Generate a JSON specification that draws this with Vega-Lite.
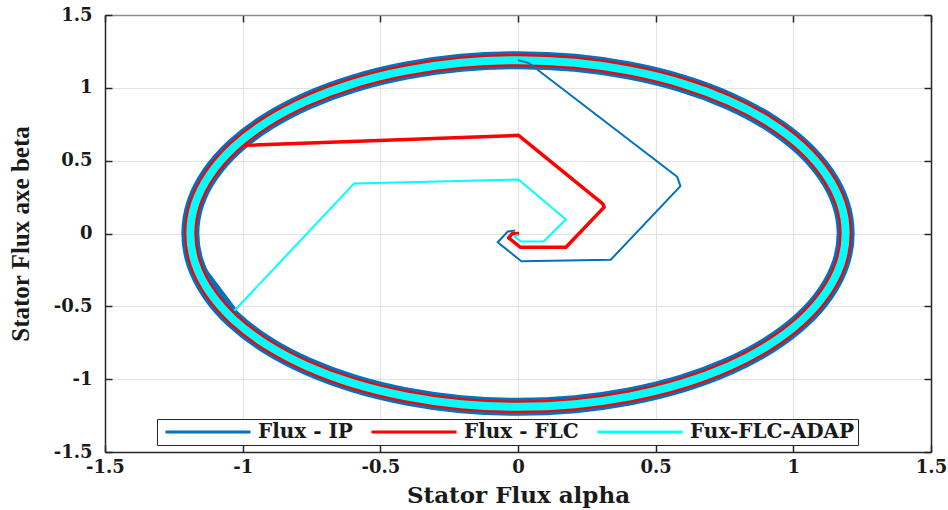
{
  "$schema": "https://vega.github.io/schema/vega-lite/v6.json",
  "width": 826,
  "height": 437,
  "autosize": {"type": "none"},
  "padding": {"left": 105, "top": 15, "right": 17, "bottom": 58},
  "background": "white",
  "config": {"view": {"stroke": null}},
  "datasets": {
    "ring": [
      {"i": 0, "x": 1.19, "y": 0.0},
      {"i": 1, "x": 1.172, "y": 0.207},
      {"i": 2, "x": 1.118, "y": 0.407},
      {"i": 3, "x": 1.031, "y": 0.595},
      {"i": 4, "x": 0.912, "y": 0.765},
      {"i": 5, "x": 0.765, "y": 0.912},
      {"i": 6, "x": 0.595, "y": 1.031},
      {"i": 7, "x": 0.407, "y": 1.118},
      {"i": 8, "x": 0.207, "y": 1.172},
      {"i": 9, "x": 0.0, "y": 1.19},
      {"i": 10, "x": -0.207, "y": 1.172},
      {"i": 11, "x": -0.407, "y": 1.118},
      {"i": 12, "x": -0.595, "y": 1.031},
      {"i": 13, "x": -0.765, "y": 0.912},
      {"i": 14, "x": -0.912, "y": 0.765},
      {"i": 15, "x": -1.031, "y": 0.595},
      {"i": 16, "x": -1.118, "y": 0.407},
      {"i": 17, "x": -1.172, "y": 0.207},
      {"i": 18, "x": -1.19, "y": 0.0},
      {"i": 19, "x": -1.172, "y": -0.207},
      {"i": 20, "x": -1.118, "y": -0.407},
      {"i": 21, "x": -1.031, "y": -0.595},
      {"i": 22, "x": -0.912, "y": -0.765},
      {"i": 23, "x": -0.765, "y": -0.912},
      {"i": 24, "x": -0.595, "y": -1.031},
      {"i": 25, "x": -0.407, "y": -1.118},
      {"i": 26, "x": -0.207, "y": -1.172},
      {"i": 27, "x": 0.0, "y": -1.19},
      {"i": 28, "x": 0.207, "y": -1.172},
      {"i": 29, "x": 0.407, "y": -1.118},
      {"i": 30, "x": 0.595, "y": -1.031},
      {"i": 31, "x": 0.765, "y": -0.912},
      {"i": 32, "x": 0.912, "y": -0.765},
      {"i": 33, "x": 1.031, "y": -0.595},
      {"i": 34, "x": 1.118, "y": -0.407},
      {"i": 35, "x": 1.172, "y": -0.207}
    ],
    "chords": [
      {"g": 1, "i": 0, "x": -1.0, "y": 0.59},
      {"g": 1, "i": 1, "x": -0.91, "y": 0.72},
      {"g": 1, "i": 2, "x": -0.82, "y": 0.846},
      {"g": 2, "i": 0, "x": -1.153, "y": -0.206},
      {"g": 2, "i": 1, "x": -1.03, "y": -0.515},
      {"g": 3, "i": 0, "x": -0.4, "y": -1.1},
      {"g": 3, "i": 1, "x": 0.0, "y": -1.175},
      {"g": 4, "i": 0, "x": 0.82, "y": -0.86},
      {"g": 4, "i": 1, "x": 1.02, "y": -0.6},
      {"g": 5, "i": 0, "x": 1.03, "y": 0.56},
      {"g": 5, "i": 1, "x": 1.11, "y": 0.36},
      {"g": 6, "i": 0, "x": 0.04, "y": 1.17},
      {"g": 6, "i": 1, "x": 0.15, "y": 1.15}
    ],
    "trans": [
      {"s": "Flux - IP", "i": 0, "x": -0.01, "y": 0.02},
      {"s": "Flux - IP", "i": 1, "x": -0.037, "y": 0.014},
      {"s": "Flux - IP", "i": 2, "x": -0.074, "y": -0.06},
      {"s": "Flux - IP", "i": 3, "x": 0.012, "y": -0.19},
      {"s": "Flux - IP", "i": 4, "x": 0.337, "y": -0.18},
      {"s": "Flux - IP", "i": 5, "x": 0.59, "y": 0.325},
      {"s": "Flux - IP", "i": 6, "x": 0.578, "y": 0.39},
      {"s": "Flux - IP", "i": 7, "x": 0.039, "y": 1.17},
      {"s": "Flux - IP", "i": 8, "x": 0.0, "y": 1.19},
      {"s": "Flux - FLC", "i": 0, "x": 0.004, "y": 0.0},
      {"s": "Flux - FLC", "i": 1, "x": -0.022, "y": -0.002},
      {"s": "Flux - FLC", "i": 2, "x": -0.034, "y": -0.03},
      {"s": "Flux - FLC", "i": 3, "x": 0.008, "y": -0.094},
      {"s": "Flux - FLC", "i": 4, "x": 0.174, "y": -0.094},
      {"s": "Flux - FLC", "i": 5, "x": 0.313, "y": 0.181},
      {"s": "Flux - FLC", "i": 6, "x": 0.308, "y": 0.204},
      {"s": "Flux - FLC", "i": 7, "x": 0.002, "y": 0.674},
      {"s": "Flux - FLC", "i": 8, "x": -0.995, "y": 0.605},
      {"s": "Fux-FLC-ADAP", "i": 0, "x": 0.0, "y": -0.008},
      {"s": "Fux-FLC-ADAP", "i": 1, "x": -0.012, "y": -0.025},
      {"s": "Fux-FLC-ADAP", "i": 2, "x": 0.011, "y": -0.055},
      {"s": "Fux-FLC-ADAP", "i": 3, "x": 0.093, "y": -0.055},
      {"s": "Fux-FLC-ADAP", "i": 4, "x": 0.174, "y": 0.096},
      {"s": "Fux-FLC-ADAP", "i": 5, "x": 0.002, "y": 0.371},
      {"s": "Fux-FLC-ADAP", "i": 6, "x": -0.595, "y": 0.344},
      {"s": "Fux-FLC-ADAP", "i": 7, "x": -1.03, "y": -0.53}
    ]
  },
  "resolve": {"axis": {"x": "independent", "y": "independent"}},
  "layer": [
    {
      "encoding": {
        "x": {
          "field": "x", "type": "quantitative",
          "scale": {"domain": [-1.5, 1.5], "nice": false, "zero": false},
          "axis": {
            "orient": "bottom", "values": [-1.5, -1, -0.5, 0, 0.5, 1, 1.5],
            "labelExpr": "datum.value + ''",
            "grid": true, "gridColor": "#e3e3e3", "gridWidth": 1,
            "tickSize": -7, "tickColor": "#262626", "tickWidth": 1.5,
            "domainColor": "#262626", "domainWidth": 1.5,
            "labelFont": "DejaVu Serif", "labelFontWeight": "bold", "labelFontSize": 18,
            "labelColor": "#1a1a1a", "labelPadding": 13, "labelFlush": false, "labelOverlap": false,
            "title": "Stator Flux alpha", "titleFont": "DejaVu Serif", "titleFontWeight": "bold",
            "titleFontSize": 23, "titleColor": "#1a1a1a", "titlePadding": 8
          }
        },
        "y": {
          "field": "y", "type": "quantitative",
          "scale": {"domain": [-1.5, 1.5], "nice": false, "zero": false},
          "axis": {
            "orient": "left", "values": [-1.5, -1, -0.5, 0, 0.5, 1, 1.5],
            "labelExpr": "datum.value + ''",
            "grid": true, "gridColor": "#e3e3e3", "gridWidth": 1,
            "tickSize": -7, "tickColor": "#262626", "tickWidth": 1.5,
            "domainColor": "#262626", "domainWidth": 1.5,
            "labelFont": "DejaVu Serif", "labelFontWeight": "bold", "labelFontSize": 18,
            "labelColor": "#1a1a1a", "labelPadding": 20, "labelFlush": false, "labelOverlap": false,
            "title": "Stator Flux axe beta", "titleFont": "Liberation Serif", "titleFontWeight": "bold",
            "titleFontSize": 25, "titleColor": "#1a1a1a", "titlePadding": 20
          }
        },
        "order": {"field": "i", "type": "quantitative"}
      },
      "layer": [
        {
          "data": {"name": "ring"},
          "mark": {"type": "line", "color": "#0072BD", "strokeWidth": 18, "interpolate": "cardinal-closed"}
        },
        {
          "data": {"name": "chords"},
          "mark": {"type": "line", "color": "#0072BD", "strokeWidth": 3, "strokeCap": "round"},
          "encoding": {"detail": {"field": "g", "type": "nominal"}}
        },
        {
          "data": {"name": "ring"},
          "mark": {"type": "line", "color": "#FF0000", "strokeWidth": 12.5, "interpolate": "cardinal-closed"}
        },
        {
          "data": {"name": "ring"},
          "mark": {"type": "line", "color": "#00FFFF", "strokeWidth": 8, "interpolate": "cardinal-closed"}
        },
        {
          "data": {"name": "trans"},
          "transform": [{"filter": "datum.s != 'Fux-FLC-ADAP'"}],
          "mark": {"type": "line", "strokeJoin": "round"},
          "encoding": {
            "color": {
              "field": "s", "type": "nominal",
              "scale": {"domain": ["Flux - IP", "Flux - FLC", "Fux-FLC-ADAP"], "range": ["#0072BD", "#FF0000", "#00FFFF"]},
              "legend": {
                "orient": "none", "legendX": 52, "legendY": 404, "direction": "horizontal", "title": null,
                "symbolType": "M-8,0H8", "symbolSize": 113, "symbolStrokeWidth": 3,
                "symbolOffset": 38, "labelOffset": 40, "labelLimit": 400,
                "labelFont": "DejaVu Serif", "labelFontWeight": "bold", "labelFontSize": 20, "labelColor": "#1a1a1a",
                "fillColor": "white", "strokeColor": "#262626", "padding": 3, "columnPadding": 12
              }
            },
            "strokeWidth": {
              "field": "s", "type": "nominal",
              "scale": {"domain": ["Flux - IP", "Flux - FLC"], "range": [2, 3.5]},
              "legend": null
            }
          }
        }
      ]
    },
    {
      "data": {"name": "trans"},
      "transform": [{"filter": "datum.s == 'Fux-FLC-ADAP'"}],
      "mark": {"type": "line", "color": "#00FFFF", "strokeWidth": 2, "strokeJoin": "round"},
      "encoding": {
        "x": {
          "field": "x", "type": "quantitative",
          "scale": {"domain": [-1.5, 1.5], "nice": false, "zero": false},
          "axis": {
            "orient": "top", "values": [-1.5, -1, -0.5, 0, 0.5, 1, 1.5], "labels": false, "grid": false,
            "tickSize": -7, "tickColor": "#262626", "tickWidth": 1.5,
            "domainColor": "#8c8c8c", "domainWidth": 1.5, "title": null
          }
        },
        "y": {
          "field": "y", "type": "quantitative",
          "scale": {"domain": [-1.5, 1.5], "nice": false, "zero": false},
          "axis": {
            "orient": "right", "values": [-1.5, -1, -0.5, 0, 0.5, 1, 1.5], "labels": false, "grid": false,
            "tickSize": -7, "tickColor": "#262626", "tickWidth": 1.5,
            "domainColor": "#262626", "domainWidth": 1.5, "title": null
          }
        },
        "order": {"field": "i", "type": "quantitative"}
      }
    }
  ]
}
